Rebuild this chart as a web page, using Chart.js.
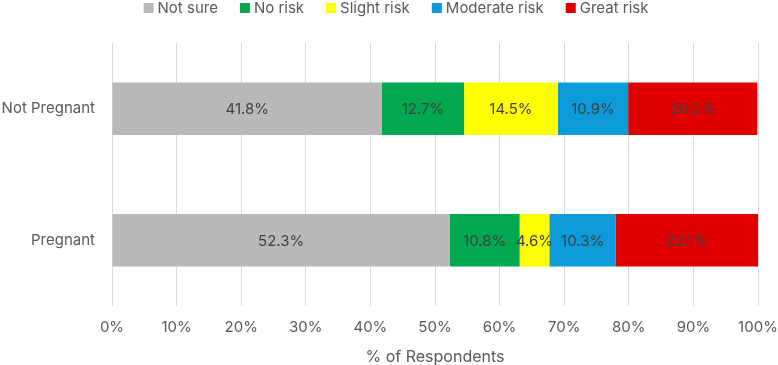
<!DOCTYPE html>
<html lang="en">
<head>
    <meta charset="UTF-8">
    <title>Perceived risk by pregnancy status</title>
    <style>
        body {
            margin: 0;
            background: #ffffff;
        }
        #wrap {
            width: 778px;
            height: 365px;
        }
    </style>
    <script src="https://cdn.jsdelivr.net/npm/chart.js"></script>
</head>
<body>
    <div id="wrap"><canvas id="riskChart"></canvas></div>

    <script>
    // Daten
    const groups = ['Not Pregnant', 'Pregnant'];
    const notSure = [41.8, 52.3];
    const noRisk = [12.7, 10.8];
    const slightRisk = [14.5, 4.6];
    const moderateRisk = [10.9, 10.3];
    const greatRisk = [20.0, 22.1];
    const xTicks = [0, 10, 20, 30, 40, 50, 60, 70, 80, 90, 100];

    const fontFamily = 'Inter, "Open Sans", Arial, sans-serif';

    // Werte mittig in die Balken schreiben
    const barLabels = {
        id: 'barLabels',
        afterDatasetsDraw(chart) {
            const ctx = chart.ctx;
            ctx.save();
            ctx.font = '15px ' + fontFamily;
            ctx.fillStyle = '#404040';
            ctx.textAlign = 'center';
            ctx.textBaseline = 'middle';
            chart.data.datasets.forEach((ds, i) => {
                const meta = chart.getDatasetMeta(i);
                meta.data.forEach((bar, j) => {
                    const p = bar.getProps(['x', 'y', 'base'], true);
                    const right = Math.min(p.x, chart.chartArea.right);
                    ctx.fillText(ds.data[j].toFixed(1) + '%', (right + p.base) / 2, p.y + 1);
                });
            });
            ctx.restore();
        }
    };

    // Legende oben selbst zeichnen (engere Abstände als die Standardlegende)
    const topLegend = {
        id: 'topLegend',
        afterDraw(chart) {
            const ctx = chart.ctx;
            const box = 10, gapText = 4, gapItem = 22, y = 8;
            ctx.save();
            ctx.font = '15px ' + fontFamily;
            ctx.textBaseline = 'middle';
            const items = chart.data.datasets.map(ds => ({
                text: ds.label,
                color: ds.backgroundColor,
                w: ctx.measureText(ds.label).width
            }));
            const total = items.reduce((s, it) => s + box + gapText + it.w, 0) + gapItem * (items.length - 1);
            let x = 396 - total / 2;
            items.forEach(it => {
                ctx.fillStyle = it.color;
                ctx.fillRect(x, y - box / 2, box, box);
                ctx.fillStyle = '#595959';
                ctx.fillText(it.text, x + box + gapText, y);
                x += box + gapText + it.w + gapItem;
            });
            ctx.restore();
        }
    };

    const ctx = document.getElementById('riskChart').getContext('2d');
    new Chart(ctx, {
        type: 'bar',
        data: {
            labels: groups,
            datasets: [
                { label: 'Not sure', data: notSure, backgroundColor: '#b9b9b9' },
                { label: 'No risk', data: noRisk, backgroundColor: '#00a84f' },
                { label: 'Slight risk', data: slightRisk, backgroundColor: '#ffff00' },
                { label: 'Moderate risk', data: moderateRisk, backgroundColor: '#0a9bd8' },
                { label: 'Great risk', data: greatRisk, backgroundColor: '#e00000' }
            ]
        },
        options: {
            indexAxis: 'y',
            responsive: true,
            maintainAspectRatio: false,
            animation: false,
            datasets: {
                bar: {
                    barPercentage: 0.8,
                    categoryPercentage: 0.5,
                    borderWidth: 0
                }
            },
            layout: {
                padding: { left: 0, right: 0, top: 43, bottom: 0 }
            },
            plugins: {
                legend: { display: false },
                tooltip: { enabled: false }
            },
            scales: {
                x: {
                    stacked: true,
                    min: 0,
                    max: 100,
                    afterBuildTicks: axis => {
                        axis.ticks = xTicks.map(v => ({ value: v }));
                    },
                    afterFit: axis => {
                        axis.paddingRight = 20;
                        axis.paddingLeft = 0;
                    },
                    grid: {
                        color: '#d9d9d9',
                        drawTicks: false
                    },
                    border: { display: false },
                    ticks: {
                        padding: 14,
                        color: '#595959',
                        font: { size: 15, family: fontFamily, lineHeight: 1 },
                        callback: v => v + '%'
                    },
                    title: {
                        display: true,
                        text: '% of Respondents',
                        color: '#595959',
                        font: { size: 16, family: fontFamily, lineHeight: 1 },
                        padding: { top: 0, bottom: 0 }
                    }
                },
                y: {
                    stacked: true,
                    afterFit: axis => {
                        axis.width = 112;
                    },
                    grid: { display: false, drawTicks: false },
                    border: { display: false },
                    ticks: {
                        padding: 17,
                        color: '#595959',
                        font: { size: 15, family: fontFamily }
                    }
                }
            }
        },
        plugins: [barLabels, topLegend]
    });
    </script>
</body>
</html>
